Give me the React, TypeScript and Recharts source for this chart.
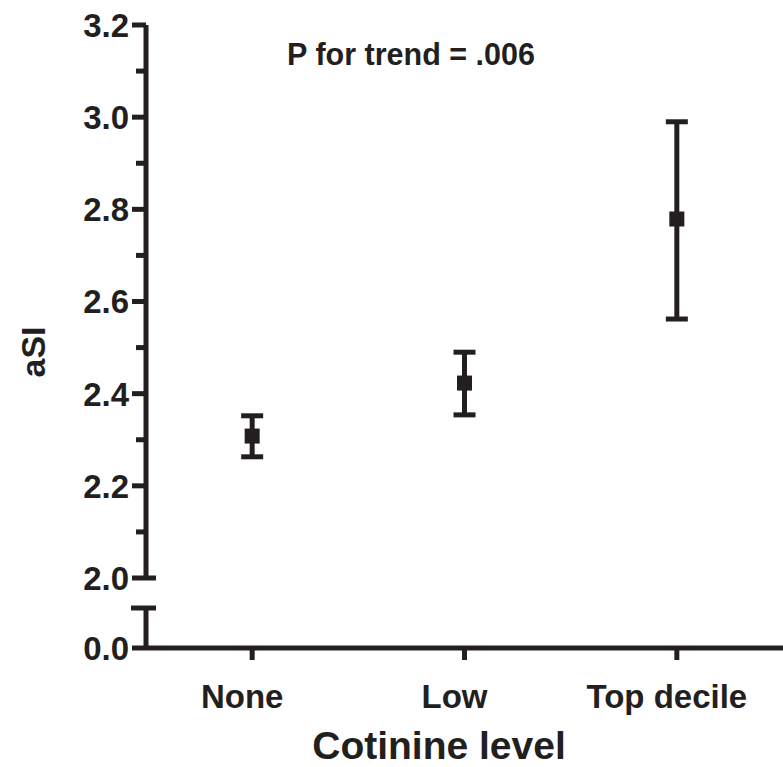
import React from "react";
import { ComposedChart, Scatter, ErrorBar, XAxis, YAxis } from "recharts";

const INK = "#231f20";
const FONT = '"Liberation Sans", Arial, Helvetica, sans-serif';

// values
const levels = ["None", "Low", "Top decile"];
const means = [2.308, 2.423, 2.779];
const lowers = [2.263, 2.354, 2.562];
const uppers = [2.352, 2.49, 2.99];

// y axis ticks (upper segment + broken lower segment)
const majorTicks = [2.0, 2.2, 2.4, 2.6, 2.8, 3.0, 3.2];
const minorTicks = [2.1, 2.3, 2.5, 2.7, 2.9, 3.1];
const lowerSegmentTop = 0.087;

const data = levels.map((level, i) => ({
  level,
  mean: means[i],
  err: [means[i] - lowers[i], uppers[i] - means[i]],
}));

const upperTicks = [...majorTicks, ...minorTicks].sort((a, b) => a - b);
const isMajor = (v: number) => majorTicks.some((m) => Math.abs(m - v) < 1e-6);

const UpperTick = ({ x, y, payload }: any) => {
  const v = payload.value;
  if (!isMajor(v)) {
    return <line x1={x - 10} x2={x} y1={y} y2={y} stroke={INK} strokeWidth={5} />;
  }
  const isBreak = Math.abs(v - majorTicks[0]) < 1e-6;
  return (
    <g>
      <line x1={x - 14} x2={isBreak ? x + 10 : x} y1={y} y2={y} stroke={INK} strokeWidth={5} />
      <text x={x - 17} y={y} dy="0.36em" textAnchor="end" fontFamily={FONT} fontWeight="bold" fontSize={33} fill={INK}>
        {v.toFixed(1)}
      </text>
    </g>
  );
};

const LowerTick = ({ x, y, payload }: any) => {
  const v = payload.value;
  if (v > 0) {
    return <line x1={x - 15} x2={x + 10} y1={y} y2={y} stroke={INK} strokeWidth={5} />;
  }
  return (
    <g>
      <line x1={x - 14} x2={x} y1={y} y2={y} stroke={INK} strokeWidth={5} />
      <text x={x - 17} y={y} dy="0.36em" textAnchor="end" fontFamily={FONT} fontWeight="bold" fontSize={33} fill={INK}>
        {v.toFixed(1)}
      </text>
    </g>
  );
};

const CategoryTick = ({ x, y, payload }: any) => (
  <text x={x - 10} y={y} dy={48} textAnchor="middle" fontFamily={FONT} fontWeight="bold" fontSize={33} fill={INK}>
    {payload.value}
  </text>
);

const SquareMarker = ({ cx, cy }: any) => (
  <rect x={cx - 7.5} y={cy - 7.5} width={15} height={15} fill={INK} />
);

export default function App() {
  return (
    <div style={{ position: "absolute", left: 0, top: 0, width: 783, height: 767, background: "#fff" }}>
      <div style={{ position: "absolute", left: 0, top: 0 }}>
        <ComposedChart width={783} height={604} data={data} margin={{ top: 25, right: 0, bottom: 26, left: 0 }}>
          <XAxis dataKey="level" type="category" scale="band" hide />
          <YAxis
            type="number"
            domain={[2.0, 3.2]}
            ticks={upperTicks}
            interval={0}
            width={146}
            tickSize={0}
            tickMargin={0}
            tickLine={false}
            axisLine={{ stroke: INK, strokeWidth: 5 }}
            tick={<UpperTick />}
            allowDataOverflow
          />
          <Scatter dataKey="mean" fill={INK} shape={<SquareMarker />} isAnimationActive={false}>
            <ErrorBar dataKey="err" direction="y" width={11} stroke={INK} strokeWidth={5} isAnimationActive={false} />
          </Scatter>
          <text x={411} y={65} textAnchor="middle" fontFamily={FONT} fontWeight="bold" fontSize={30.5} fill={INK}>
            P for trend = .006
          </text>
          <text x={45} y={352} transform="rotate(-90 45 352)" textAnchor="middle" fontFamily={FONT} fontWeight="bold" fontSize={34} fill={INK}>
            aSI
          </text>
        </ComposedChart>
      </div>
      <div style={{ position: "absolute", left: 0, top: 590 }}>
        <ComposedChart width={783} height={177} data={data} margin={{ top: 18, right: 0, bottom: 0, left: 0 }}>
          <XAxis
            dataKey="level"
            type="category"
            scale="band"
            height={119}
            tickSize={12}
            tickMargin={0}
            axisLine={{ stroke: INK, strokeWidth: 5 }}
            tickLine={{ stroke: INK, strokeWidth: 5 }}
            tick={<CategoryTick />}
            interval={0}
          />
          <YAxis
            type="number"
            domain={[0, lowerSegmentTop]}
            ticks={[0, lowerSegmentTop]}
            interval={0}
            width={146}
            tickSize={0}
            tickMargin={0}
            tickLine={false}
            axisLine={{ stroke: INK, strokeWidth: 5 }}
            tick={<LowerTick />}
            allowDataOverflow
          />
          <text x={439} y={169} textAnchor="middle" fontFamily={FONT} fontWeight="bold" fontSize={39} fill={INK}>
            Cotinine level
          </text>
        </ComposedChart>
      </div>
    </div>
  );
}
